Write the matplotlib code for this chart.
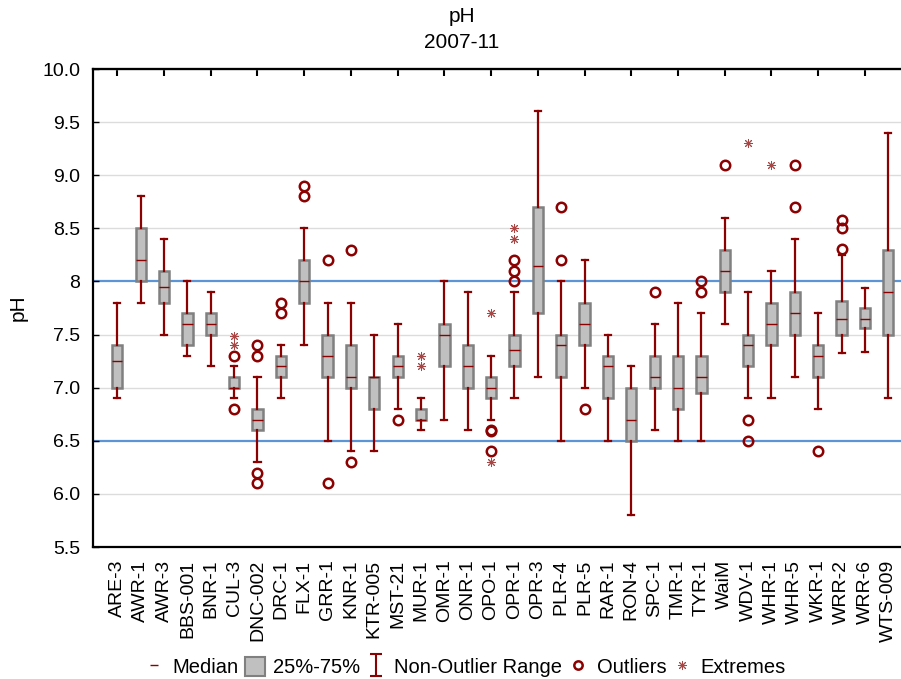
import numpy as np
import matplotlib.pyplot as plt
from matplotlib.lines import Line2D
from matplotlib.patches import Patch
from matplotlib.path import Path

plt.rcParams['font.family'] = ['Liberation Sans', 'DejaVu Sans']
NARROW = ['Liberation Sans Narrow', 'Liberation Sans', 'DejaVu Sans']

# pH summary per monitoring site, 2007-11
sites = ['ARE-3', 'AWR-1', 'AWR-3', 'BBS-001', 'BNR-1', 'CUL-3', 'DNC-002', 'DRC-1',
         'FLX-1', 'GRR-1', 'KNR-1', 'KTR-005', 'MST-21', 'MUR-1', 'OMR-1', 'ONR-1',
         'OPO-1', 'OPR-1', 'OPR-3', 'PLR-4', 'PLR-5', 'RAR-1', 'RON-4', 'SPC-1',
         'TMR-1', 'TYR-1', 'WaiM', 'WDV-1', 'WHR-1', 'WHR-5', 'WKR-1', 'WRR-2',
         'WRR-6', 'WTS-009']
q1 = [7.0, 8.0, 7.8, 7.4, 7.5, 7.0, 6.6, 7.1, 7.8, 7.1, 7.0, 6.8, 7.1, 6.7, 7.2, 7.0,
      6.9, 7.2, 7.7, 7.1, 7.4, 6.9, 6.5, 7.0, 6.8, 6.95, 7.9, 7.2, 7.4, 7.5, 7.1, 7.5,
      7.56, 7.5]
medians = [7.25, 8.2, 7.95, 7.6, 7.6, 7.0, 6.7, 7.2, 8.0, 7.3, 7.1, 7.1, 7.2, 6.7, 7.5,
           7.2, 7.0, 7.35, 8.15, 7.4, 7.6, 7.2, 6.7, 7.1, 7.0, 7.1, 8.1, 7.4, 7.6, 7.7,
           7.3, 7.65, 7.65, 7.9]
q3 = [7.4, 8.5, 8.1, 7.7, 7.7, 7.1, 6.8, 7.3, 8.2, 7.5, 7.4, 7.1, 7.3, 6.8, 7.6, 7.4,
      7.1, 7.5, 8.7, 7.5, 7.8, 7.3, 7.0, 7.3, 7.3, 7.3, 8.3, 7.5, 7.8, 7.9, 7.4, 7.82,
      7.75, 8.3]
whisker_lo = [6.9, 7.8, 7.5, 7.3, 7.2, 6.9, 6.3, 6.9, 7.4, 6.5, 6.4, 6.4, 6.8, 6.6, 6.7,
              6.6, 6.7, 6.9, 7.1, 6.5, 7.0, 6.5, 5.8, 6.6, 6.5, 6.5, 7.6, 6.9, 6.9, 7.1,
              6.8, 7.33, 7.34, 6.9]
whisker_hi = [7.8, 8.8, 8.4, 8.0, 7.9, 7.2, 7.1, 7.4, 8.5, 7.8, 7.8, 7.5, 7.6, 6.9, 8.0,
              7.9, 7.3, 7.9, 9.6, 8.0, 8.2, 7.5, 7.2, 7.6, 7.8, 7.7, 8.6, 7.9, 8.1, 8.4,
              7.7, 8.25, 7.94, 9.4]
outliers = {
    'CUL-3': [7.3, 6.8],
    'DNC-002': [7.4, 7.3, 6.2, 6.1],
    'DRC-1': [7.8, 7.7],
    'FLX-1': [8.9, 8.8],
    'GRR-1': [8.2, 6.1],
    'KNR-1': [8.3, 6.3],
    'MST-21': [6.7],
    'OPO-1': [6.6, 6.59, 6.4],
    'OPR-1': [8.0, 8.1, 8.2],
    'PLR-4': [8.7, 8.2],
    'PLR-5': [6.8],
    'SPC-1': [7.9],
    'TYR-1': [8.0, 7.9],
    'WaiM': [9.1],
    'WDV-1': [6.7, 6.5],
    'WHR-5': [9.1, 8.7],
    'WKR-1': [6.4],
    'WRR-2': [8.31, 8.5, 8.58],
}
extremes = {
    'CUL-3': [7.40, 7.49],
    'MUR-1': [7.2, 7.3],
    'OPO-1': [6.3, 7.7],
    'OPR-1': [8.4, 8.5],
    'WDV-1': [9.3],
    'WHR-1': [9.1],
}
limit_lines = [6.5, 8.0]
yticks = [5.5, 6.0, 6.5, 7.0, 7.5, 8.0, 8.5, 9.0, 9.5, 10.0]
ytick_labels = ['5.5', '6.0', '6.5', '7.0', '7.5', '8', '8.5', '9.0', '9.5', '10.0']

DARKRED = '#8b0000'
EXTREME = '#a84545'
BOXFILL = '#c0c0c0'
BOXEDGE = '#808080'
star8 = (8, 2, 0)

fig = plt.figure(figsize=(9.01, 6.79), dpi=100)
W, H = 901.0, 679.0
ax = fig.add_axes([93 / W, 1 - 547 / H, (912.6 - 93) / W, (547 - 69) / H])

x = np.arange(len(sites))

# reference grid, blue lines mark the acceptable pH range
for y in yticks:
    if y in limit_lines:
        ax.axhline(y, color='#5b95d6', lw=1.6, zorder=1)
    else:
        ax.axhline(y, color='#dcdcdc', lw=1.0, zorder=1)

stats = []
for i, s in enumerate(sites):
    stats.append(dict(label=s, q1=q1[i], med=medians[i], q3=q3[i],
                      whislo=whisker_lo[i], whishi=whisker_hi[i], fliers=[]))

ax.bxp(stats, positions=x, widths=0.44, capwidths=0.26, patch_artist=True,
       showfliers=False,
       boxprops=dict(facecolor=BOXFILL, edgecolor=BOXEDGE, linewidth=1.8),
       medianprops=dict(color=DARKRED, linewidth=1.0),
       whiskerprops=dict(color=DARKRED, linewidth=1.6),
       capprops=dict(color=DARKRED, linewidth=1.6), zorder=3)

for i, s in enumerate(sites):
    if s in outliers:
        vals = outliers[s]
        ax.plot([i] * len(vals), vals, 'o', ls='none', mfc='none', mec=DARKRED,
                mew=1.8, ms=6.8, zorder=4)
    if s in extremes:
        vals = extremes[s]
        ax.plot([i] * len(vals), vals, marker=star8, ls='none', color=EXTREME,
                mew=0.7, ms=6.5, zorder=4)

ax.set_xlim(-1.04, len(sites) - 1 + 1.04)
ax.set_ylim(5.5, 10.0)
ax.set_yticks(yticks)
ax.set_yticklabels(ytick_labels)
ax.tick_params(axis='y', direction='in', length=4, width=1, labelsize=14, pad=9)

ax.set_xticks(x)
ax.set_xticklabels(sites, rotation=90, family=NARROW, fontsize=14)
ax.tick_params(axis='x', which='major', length=0, pad=9)
ax.set_xticks(x[::2], minor=True)
ax.tick_params(axis='x', which='minor', direction='out', length=4, width=1.5)

top = ax.secondary_xaxis('top')
top.set_xticks(x[::2])
top.tick_params(direction='in', length=5, width=1.5, labeltop=False)
top.spines['top'].set_linewidth(1.5)

for sp in ax.spines.values():
    sp.set_linewidth(1.6)

ax.set_ylabel('pH', fontsize=15)
ax.yaxis.set_label_coords(-0.08, 0.5)

fig.text(462 / W, 1 - 17 / H, 'pH', ha='center', va='center', fontsize=15)
fig.text(462 / W, 1 - 42 / H, '2007-11', ha='center', va='center', fontsize=15)

# I-beam symbol for the whisker range in the legend
ibeam = Path([(-0.5, 1), (0.5, 1), (0, 1), (0, -1), (-0.5, -1), (0.5, -1)],
             [Path.MOVETO, Path.LINETO, Path.MOVETO, Path.LINETO, Path.MOVETO, Path.LINETO])
handles = [
    Line2D([], [], ls='none', marker='_', color=DARKRED, ms=6, mew=1.0, label='Median'),
    Patch(facecolor=BOXFILL, edgecolor=BOXEDGE, lw=1.5, label='25%-75%'),
    Line2D([], [], ls='none', marker=ibeam, color=DARKRED, ms=16, mew=1.5,
           label='Non-Outlier Range'),
    Line2D([], [], ls='none', marker='o', mfc='none', mec=DARKRED, mew=1.8, ms=6,
           label='Outliers'),
    Line2D([], [], ls='none', marker=star8, color=EXTREME, mew=0.7, ms=6.5,
           label='Extremes'),
]
fig.legend(handles=handles, ncol=5, loc='center', bbox_to_anchor=(465 / W, 1 - 667 / H),
           frameon=False, prop=dict(family=NARROW, size=14.5), handlelength=1.0,
           handleheight=1.1, handletextpad=0.4, columnspacing=0.3, borderpad=0)

fig.savefig('out.png', dpi=100)
